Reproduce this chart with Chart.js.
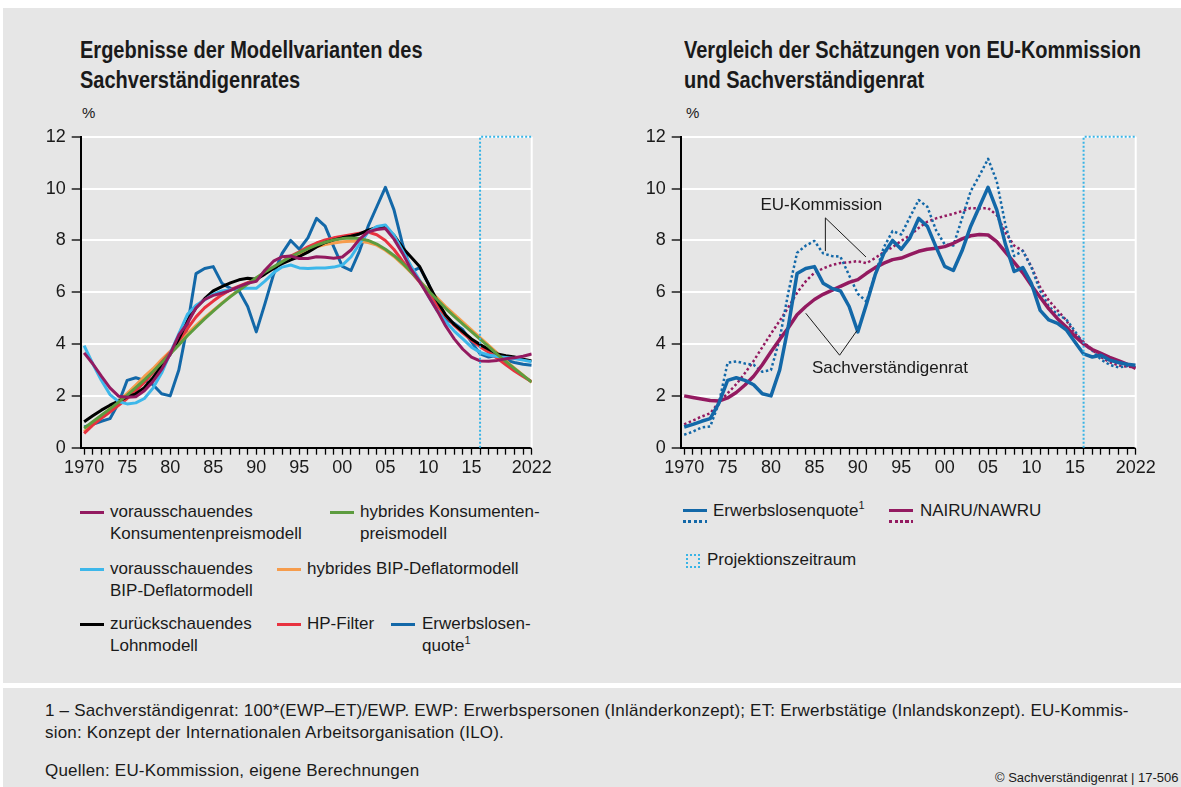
<!DOCTYPE html>
<html lang="de">
<head>
<meta charset="UTF-8">
<title>Erwerbslosenquote und NAIRU</title>
<script src="https://cdn.jsdelivr.net/npm/chart.js@4.4.1/dist/chart.umd.min.js"></script>
<style>
  html, body { margin: 0; padding: 0; background: #fff; }
  body { width: 1181px; height: 787px; position: relative; overflow: hidden;
         font-family: "Liberation Sans", Arial, sans-serif; color: #1a1a1a; }
  .panel { position: absolute; left: 3px; top: 8px; width: 1178px; height: 675px; background: #e6e6e6; }
  .foot  { position: absolute; left: 3px; top: 688px; width: 1178px; height: 99px; background: #e6e6e6; }
  .title { position: absolute; top: 35px; font-family: "Liberation Sans", sans-serif;
           font-weight: bold; font-size: 23px; line-height: 30px; white-space: nowrap;
           transform: scaleX(0.87); transform-origin: 0 0; }
  .unit  { position: absolute; top: 104px; font-size: 15px; }
  .box   { position: absolute; top: 120px; }
  .lg    { position: absolute; font-size: 17px; line-height: 22px; white-space: nowrap; }
  .lg sup { font-size: 11px; line-height: 0; vertical-align: 7px; }
  .sw    { position: absolute; width: 24px; height: 3px; }
  .dot   { position: absolute; width: 24px; height: 3px; }
  .proj  { position: absolute; width: 10px; height: 10px; border: 2px dotted #38b4e6; }
  .note  { position: absolute; left: 45px; font-size: 17px; letter-spacing: 0.2px; line-height: 22px; white-space: nowrap; }
  .copy  { position: absolute; left: 995px; top: 770px; font-size: 13px; white-space: nowrap; }
</style>
</head>
<body>
<div class="panel"></div>
<div class="foot"></div>

<div class="title" style="left:80px">Ergebnisse der Modellvarianten des<br>Sachverständigenrates</div>
<div class="title" style="left:684px">Vergleich der Schätzungen von EU-Kommission<br>und Sachverständigenrat</div>
<div class="unit" style="left:82px">%</div>
<div class="unit" style="left:686px">%</div>

<div class="box" style="left:0"><canvas id="left" width="560" height="360"></canvas></div>
<div class="box" style="left:600px"><canvas id="right" width="560" height="360"></canvas></div>

<!-- Legende links -->
<div class="sw" style="left:80px;top:511px;background:#931a60"></div>
<div class="lg" style="left:110px;top:501px">vorausschauendes<br>Konsumentenpreismodell</div>
<div class="sw" style="left:330px;top:511px;background:#5d9c3f"></div>
<div class="lg" style="left:360px;top:501px">hybrides Konsumenten-<br>preismodell</div>
<div class="sw" style="left:80px;top:568px;background:#3db7ea"></div>
<div class="lg" style="left:110px;top:558px">vorausschauendes<br>BIP-Deflatormodell</div>
<div class="sw" style="left:277px;top:568px;background:#f69c4c"></div>
<div class="lg" style="left:307px;top:558px">hybrides BIP-Deflatormodell</div>
<div class="sw" style="left:80px;top:623px;background:#000"></div>
<div class="lg" style="left:110px;top:613px">zurückschauendes<br>Lohnmodell</div>
<div class="sw" style="left:277px;top:623px;background:#e8323f"></div>
<div class="lg" style="left:307px;top:613px">HP-Filter</div>
<div class="sw" style="left:391px;top:623px;background:#1368a8"></div>
<div class="lg" style="left:422px;top:613px">Erwerbslosen-<br>quote<sup>1</sup></div>

<!-- Legende rechts -->
<div class="sw" style="left:683px;top:509px;background:#1368a8"></div>
<div class="dot" style="left:683px;top:520px;background:repeating-linear-gradient(90deg,#1368a8 0 3px,transparent 3px 5.5px)"></div>
<div class="lg" style="left:713px;top:500px">Erwerbslosenquote<sup>1</sup></div>
<div class="sw" style="left:889px;top:509px;background:#931a60"></div>
<div class="dot" style="left:889px;top:520px;background:repeating-linear-gradient(90deg,#931a60 0 3px,transparent 3px 5.5px)"></div>
<div class="lg" style="left:920px;top:500px">NAIRU/NAWRU</div>
<div class="proj" style="left:686px;top:554px"></div>
<div class="lg" style="left:707px;top:549px">Projektionszeitraum</div>

<div class="note" style="top:700px">1 – Sachverständigenrat: 100*(EWP–ET)/EWP. EWP: Erwerbspersonen (Inländerkonzept); ET: Erwerbstätige (Inlandskonzept). EU-Kommis-<br>sion: Konzept der Internationalen Arbeitsorganisation (ILO).</div>
<div class="note" style="top:760px">Quellen: EU-Kommission, eigene Berechnungen</div>
<div class="copy">© Sachverständigenrat | 17-506</div>

<script>
// Jahre 1970 bis 2022
const years = [1970, 1971, 1972, 1973, 1974, 1975, 1976, 1977, 1978, 1979,
               1980, 1981, 1982, 1983, 1984, 1985, 1986, 1987, 1988, 1989,
               1990, 1991, 1992, 1993, 1994, 1995, 1996, 1997, 1998, 1999,
               2000, 2001, 2002, 2003, 2004, 2005, 2006, 2007, 2008, 2009,
               2010, 2011, 2012, 2013, 2014, 2015, 2016, 2017, 2018, 2019,
               2020, 2021, 2022];
const tickYears = [1970, 1975, 1980, 1985, 1990, 1995, 2000, 2005, 2010, 2015, 2022];
const tickText  = ['1970', '75', '80', '85', '90', '95', '00', '05', '10', '15', '2022'];
const projStart = 2016;

// linke Grafik: Modellvarianten
const vorausKonsum = [3.66, 3.24, 2.76, 2.31, 1.99, 1.95, 1.97, 2.2, 2.56, 3.02,
                      3.62, 4.35, 4.8, 5.4, 5.72, 5.88, 5.96, 6.07, 6.22, 6.35,
                      6.42, 6.85, 7.2, 7.37, 7.4, 7.3, 7.3, 7.37, 7.35, 7.31,
                      7.36, 7.63, 8.05, 8.33, 8.42, 8.46, 8.05, 7.5, 6.88, 6.4,
                      5.85, 5.3, 4.7, 4.2, 3.8, 3.5, 3.35, 3.34, 3.37, 3.43,
                      3.47, 3.53, 3.62];
const hybridKonsum = [0.75, 1.0, 1.25, 1.5, 1.76, 2.03, 2.32, 2.62, 2.94, 3.28,
                      3.62, 3.97, 4.32, 4.65, 4.97, 5.27, 5.56, 5.83, 6.08, 6.32,
                      6.56, 6.78, 6.98, 7.18, 7.37, 7.53, 7.68, 7.82, 7.93, 8.02,
                      8.07, 8.09, 8.07, 8.0, 7.86, 7.66, 7.42, 7.12, 6.78, 6.42,
                      6.06, 5.72, 5.38, 5.07, 4.77, 4.48, 4.19, 3.9, 3.6, 3.32,
                      3.05, 2.79, 2.53];
const vorausBIP = [3.94, 3.24, 2.6, 2.05, 1.78, 1.69, 1.73, 1.9, 2.3, 2.88,
                   3.65, 4.39, 5.15, 5.5, 5.7, 5.92, 6.05, 6.1, 6.14, 6.15,
                   6.15, 6.43, 6.75, 6.97, 7.05, 6.94, 6.92, 6.94, 6.94, 6.97,
                   7.05, 7.36, 7.87, 8.32, 8.54, 8.6, 8.2, 7.6, 7.0, 6.45,
                   5.85, 5.3, 4.87, 4.5, 4.2, 3.88, 3.68, 3.58, 3.52, 3.48,
                   3.44, 3.38, 3.32];
const hybridBIP = [0.62, 0.9, 1.2, 1.5, 1.8, 2.1, 2.42, 2.75, 3.05, 3.4,
                   3.72, 4.05, 4.4, 4.72, 5.02, 5.3, 5.58, 5.85, 6.1, 6.35,
                   6.55, 6.75, 6.95, 7.15, 7.32, 7.48, 7.62, 7.75, 7.84, 7.9,
                   7.95, 7.97, 7.97, 7.92, 7.82, 7.62, 7.38, 7.08, 6.76, 6.42,
                   6.1, 5.78, 5.45, 5.15, 4.85, 4.55, 4.25, 3.95, 3.65, 3.35,
                   3.07, 2.8, 2.52];
const lohnmodell = [1.0, 1.23, 1.45, 1.64, 1.8, 1.96, 2.08, 2.32, 2.7, 3.15,
                    3.6, 4.2, 4.9, 5.4, 5.75, 6.05, 6.22, 6.36, 6.48, 6.54,
                    6.5, 6.7, 6.92, 7.1, 7.25, 7.38, 7.55, 7.75, 7.92, 8.02,
                    8.1, 8.16, 8.25, 8.4, 8.5, 8.52, 8.2, 7.72, 7.35, 6.98,
                    6.32, 5.68, 5.12, 4.76, 4.48, 4.2, 3.98, 3.8, 3.62, 3.55,
                    3.5, 3.42, 3.35];
const hpFilter = [0.55, 0.87, 1.13, 1.38, 1.64, 1.9, 2.2, 2.52, 2.9, 3.3,
                  3.68, 4.13, 4.6, 5.05, 5.4, 5.66, 5.9, 6.1, 6.24, 6.37,
                  6.5, 6.72, 6.95, 7.18, 7.4, 7.56, 7.75, 7.9, 8.02, 8.1,
                  8.16, 8.22, 8.28, 8.32, 8.22, 8.0, 7.65, 7.2, 6.78, 6.38,
                  5.95, 5.5, 5.08, 4.72, 4.42, 4.15, 3.9, 3.68, 3.45, 3.2,
                  2.96, 2.75, 2.55];

// Erwerbslosenquote (Sachverständigenrat) – in beiden Grafiken
const quoteSVR = [0.8, 0.9, 1.02, 1.12, 1.72, 2.6, 2.7, 2.6, 2.43, 2.08,
                  2.0, 3.0, 4.7, 6.72, 6.92, 6.99, 6.35, 6.15, 6.05, 5.45,
                  4.47, 5.55, 6.68, 7.5, 8.0, 7.66, 8.1, 8.85, 8.55, 7.75,
                  7.0, 6.84, 7.6, 8.55, 9.3, 10.05, 9.18, 7.85, 6.8, 6.95,
                  6.33, 5.3, 4.93, 4.8, 4.55, 4.08, 3.62, 3.5, 3.57, 3.38,
                  3.29, 3.22, 3.18];

// rechte Grafik: EU-Kommission und Sachverständigenrat
const quoteEU = [0.5, 0.62, 0.78, 0.82, 1.72, 3.28, 3.33, 3.25, 3.2, 2.93,
                 3.0, 4.2, 6.0, 7.52, 7.8, 7.98, 7.5, 7.4, 7.37, 6.65,
                 5.94, 5.64, 6.7, 7.74, 8.36, 8.23, 8.9, 9.56, 9.3, 8.4,
                 7.85, 7.8, 8.85, 9.9, 10.5, 11.15, 10.28, 8.6, 7.4, 7.6,
                 6.95, 6.05, 5.45, 5.15, 4.95, 4.5, 4.0, 3.75, 3.4, 3.2,
                 3.1, 3.15, 3.18];
const nairuSVR = [2.0, 1.94, 1.88, 1.82, 1.8, 1.92, 2.13, 2.42, 2.76, 3.2,
                  3.7, 4.18, 4.63, 5.13, 5.45, 5.72, 5.92, 6.07, 6.23, 6.38,
                  6.49, 6.73, 6.95, 7.12, 7.26, 7.32, 7.45, 7.58, 7.66, 7.7,
                  7.76, 7.89, 8.06, 8.18, 8.23, 8.21, 7.95, 7.55, 7.15, 6.75,
                  6.26, 5.81, 5.36, 4.98, 4.66, 4.3, 4.0, 3.79, 3.64, 3.49,
                  3.36, 3.23, 3.06];
const nawruEU = [0.9, 1.05, 1.2, 1.33, 1.75, 2.1, 2.45, 2.88, 3.35, 3.88,
                 4.4, 4.9, 5.42, 5.98, 6.42, 6.75, 6.92, 7.05, 7.13, 7.16,
                 7.2, 7.12, 7.32, 7.55, 7.74, 7.98, 8.2, 8.48, 8.72, 8.85,
                 8.94, 9.03, 9.13, 9.25, 9.23, 9.25, 8.98, 8.3, 7.8, 7.6,
                 6.98, 6.2, 5.68, 5.3, 4.92, 4.4, 4.08, 3.77, 3.5, 3.3,
                 3.18, 3.13, 3.1];

const FONT = '"Liberation Sans", Arial, sans-serif';

function pts(values) {
  return years.map((yr, i) => ({ x: yr, y: values[i] }));
}

function line(label, values, color, width, order, dash) {
  return {
    label: label,
    data: pts(values),
    borderColor: color,
    borderWidth: width,
    borderDash: dash || [],
    borderJoinStyle: 'round',
    pointRadius: 0,
    tension: 0,
    fill: false,
    order: order
  };
}

// weisser rechter Rand und Projektionszeitraum
const frame = {
  id: 'frame',
  beforeDatasetsDraw(chart) {
    const { ctx, chartArea: a } = chart;
    ctx.save();
    ctx.strokeStyle = '#fff';
    ctx.lineWidth = 2;
    ctx.beginPath();
    ctx.moveTo(a.right, a.top);
    ctx.lineTo(a.right, a.bottom);
    ctx.stroke();
    ctx.restore();
  },
  afterDatasetsDraw(chart) {
    const { ctx, chartArea: a, scales } = chart;
    const px = scales.x.getPixelForValue(projStart);
    const py = scales.y.getPixelForValue(12);
    ctx.save();
    ctx.strokeStyle = '#38b4e6';
    ctx.lineWidth = 2;
    ctx.setLineDash([2, 2]);
    ctx.beginPath();
    ctx.moveTo(px, a.bottom);
    ctx.lineTo(px, py);
    ctx.lineTo(a.right, py);
    ctx.stroke();
    ctx.restore();
  }
};

// Beschriftungen mit Hinweislinien (rechte Grafik)
const callouts = {
  id: 'callouts',
  afterDatasetsDraw(chart) {
    const { ctx, scales: { x, y } } = chart;
    const P = (a, b) => [x.getPixelForValue(a), y.getPixelForValue(b)];
    const groups = [
      { text: 'EU-Kommission', at: [1985.8, 9.36], apex: [1986.26, 8.87], ends: [[1986.26, 7.59], [1990.94, 7.36]] },
      { text: 'Sachverständigenrat', at: [1993.7, 3.07], apex: [1987.9, 3.57], ends: [[1984.0, 5.19], [1989.9, 4.52]] }
    ];
    ctx.save();
    ctx.strokeStyle = '#1a1a1a';
    ctx.lineWidth = 1;
    groups.forEach(g => {
      const ap = P(g.apex[0], g.apex[1]);
      g.ends.forEach(e => {
        const ep = P(e[0], e[1]);
        ctx.beginPath();
        ctx.moveTo(ap[0], ap[1]);
        ctx.lineTo(ep[0], ep[1]);
        ctx.stroke();
      });
      const tp = P(g.at[0], g.at[1]);
      ctx.fillStyle = '#1a1a1a';
      ctx.font = '17px ' + FONT;
      ctx.textAlign = 'center';
      ctx.textBaseline = 'middle';
      ctx.fillText(g.text, tp[0], tp[1]);
    });
    ctx.restore();
  }
};

function options(padRight) {
  return {
    responsive: false,
    animation: false,
    layout: { padding: { left: 0, right: padRight, top: 15, bottom: 0 } },
    plugins: { legend: { display: false }, tooltip: { enabled: false } },
    scales: {
      x: {
        type: 'linear',
        min: 1969.6,
        max: 2022,
        afterBuildTicks: s => { s.ticks = years.map(v => ({ value: v })); },
        afterFit: s => { s.height = 32.3; },
        grid: { drawOnChartArea: false, drawTicks: true, tickLength: 7, tickColor: '#000', tickWidth: 1.3 },
        border: { color: '#000', width: 2 },
        ticks: {
          autoSkip: false, maxRotation: 0, minRotation: 0, padding: 3,
          color: '#1a1a1a', font: { family: FONT, size: 18 },
          callback: v => { const i = tickYears.indexOf(v); return i >= 0 ? tickText[i] : ''; }
        }
      },
      y: {
        min: 0,
        max: 12,
        afterFit: s => { s.width = 80.7; },
        grid: { color: '#fff', lineWidth: 2, tickColor: '#000', tickLength: 9, tickWidth: 1.3 },
        border: { color: '#000', width: 2 },
        ticks: { stepSize: 2, padding: 6, color: '#1a1a1a', font: { family: FONT, size: 18 } }
      }
    }
  };
}

new Chart(document.getElementById('left'), {
  type: 'line',
  data: {
    datasets: [
      line('vorausschauendes Konsumentenpreismodell', vorausKonsum, '#931a60', 3, 1),
      line('hybrides Konsumentenpreismodell', hybridKonsum, '#5d9c3f', 3, 2),
      line('vorausschauendes BIP-Deflatormodell', vorausBIP, '#3db7ea', 3, 3),
      line('hybrides BIP-Deflatormodell', hybridBIP, '#f69c4c', 3, 6),
      line('zurückschauendes Lohnmodell', lohnmodell, '#000000', 3, 4),
      line('HP-Filter', hpFilter, '#e8323f', 3, 5),
      line('Erwerbslosenquote', quoteSVR, '#1368a8', 3, 7)
    ]
  },
  options: options(28.3),
  plugins: [frame]
});

new Chart(document.getElementById('right'), {
  type: 'line',
  data: {
    datasets: [
      line('Erwerbslosenquote (Sachverständigenrat)', quoteSVR, '#1368a8', 3.5, 1),
      line('NAIRU (Sachverständigenrat)', nairuSVR, '#931a60', 3.5, 2),
      line('Erwerbslosenquote (EU-Kommission)', quoteEU, '#1368a8', 2.5, 3, [2.5, 2.5]),
      line('NAWRU (EU-Kommission)', nawruEU, '#931a60', 2.5, 4, [2.5, 2.5])
    ]
  },
  options: options(24.3),
  plugins: [frame, callouts]
});
</script>
</body>
</html>
